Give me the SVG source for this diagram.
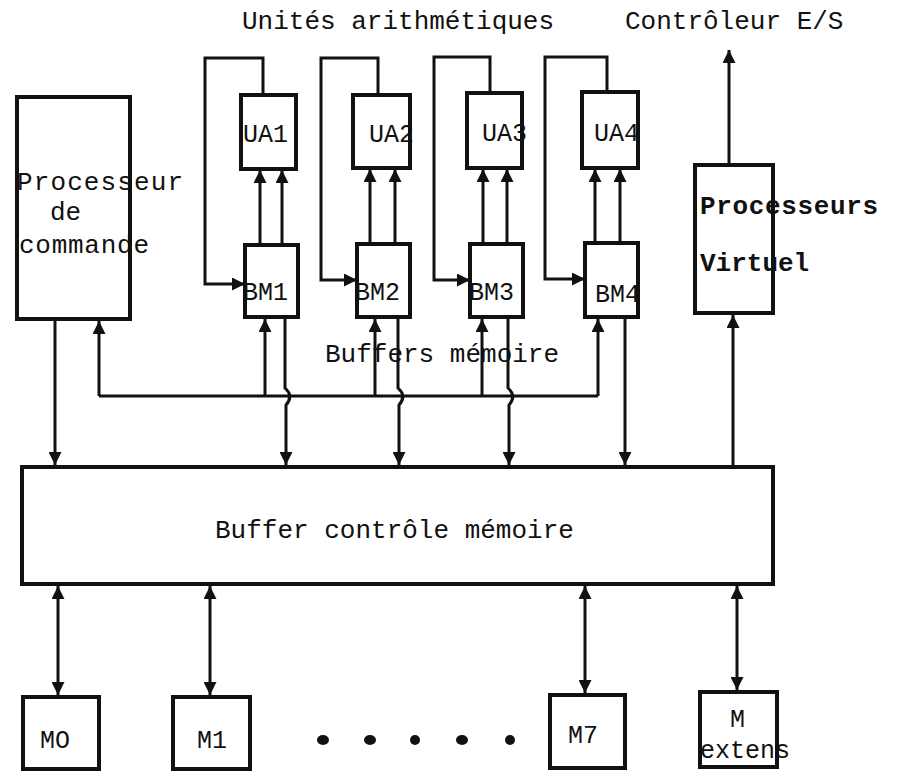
<svg xmlns="http://www.w3.org/2000/svg" width="900" height="772" viewBox="0 0 900 772">
<defs>
<marker id="ah" viewBox="0 0 12 12" markerWidth="13" markerHeight="13" refX="12" refY="6" orient="auto-start-reverse" markerUnits="userSpaceOnUse">
<path d="M0,0 L12,6 L0,12 z" fill="#111"/>
</marker>
<style>
.box{fill:none;stroke:#111;stroke-width:4}
.c{fill:none;stroke:#111;stroke-width:3}
.a{marker-end:url(#ah)}
.b{marker-start:url(#ah);marker-end:url(#ah)}
text{font-family:"Liberation Mono","DejaVu Sans Mono",monospace;fill:#111}
.t{font-size:26px}
.s{font-size:25px}
.m{font-size:25px}
</style>
</defs>
<rect width="900" height="772" fill="#fff"/>
<text class="t" x="242" y="29">Unités arithmétiques</text>
<text class="t" x="625" y="29">Contrôleur E/S</text>
<text class="t" x="325" y="362">Buffers mémoire</text>
<g id="proc-cmd">
<rect class="box" x="17" y="97" width="113" height="222"/>
<text class="t" x="17" y="190" textLength="166">Processeur</text>
<text class="t" x="50" y="220">de</text>
<text class="t" x="19" y="253" textLength="130">commande</text>
</g>
<g id="ua1"><rect class="box" x="241" y="95" width="55" height="74"/><text class="s" x="243" y="142">UA1</text></g>
<g id="ua2"><rect class="box" x="353" y="95" width="57" height="73"/><text class="s" x="369" y="142">UA2</text></g>
<g id="ua3"><rect class="box" x="467" y="93" width="55" height="75"/><text class="s" x="482" y="141">UA3</text></g>
<g id="ua4"><rect class="box" x="582" y="92" width="56" height="76"/><text class="s" x="594" y="141">UA4</text></g>
<g id="bm1"><rect class="box" x="245" y="245" width="53" height="72"/><text class="s" x="243" y="300">BM1</text></g>
<g id="bm2"><rect class="box" x="357" y="244" width="53" height="73"/><text class="s" x="355" y="300">BM2</text></g>
<g id="bm3"><rect class="box" x="470" y="244" width="53" height="73"/><text class="s" x="469" y="300">BM3</text></g>
<g id="bm4"><rect class="box" x="585" y="243" width="53" height="74"/><text class="s" x="595" y="302">BM4</text></g>
<g id="proc-virt">
<rect class="box" x="695" y="165" width="78" height="148"/>
<text class="t" x="700" y="214" font-weight="bold" textLength="178">Processeurs</text>
<text class="t" x="700" y="271" font-weight="bold">Virtuel</text>
</g>
<g id="buffer">
<rect class="box" x="22" y="467" width="751" height="117"/>
<text class="t" x="215" y="538">Buffer contrôle mémoire</text>
</g>
<g id="m0"><rect class="box" x="23" y="697" width="76" height="72"/><text class="m" x="40" y="748">MO</text></g>
<g id="m1"><rect class="box" x="173" y="697" width="77" height="72"/><text class="m" x="197" y="748">M1</text></g>
<g id="m7"><rect class="box" x="550" y="695" width="75" height="73"/><text class="m" x="568" y="743">M7</text></g>
<g id="mext"><rect class="box" x="700" y="692" width="77" height="75"/><text class="m" x="730" y="727">M</text><text class="m" x="700" y="758">extens</text></g>
<g id="dots" fill="#111">
<ellipse cx="323" cy="740" rx="6" ry="5"/>
<ellipse cx="370" cy="740" rx="6" ry="5"/>
<ellipse cx="415" cy="740" rx="5" ry="5"/>
<ellipse cx="462" cy="740" rx="6" ry="5"/>
<ellipse cx="510" cy="740" rx="5" ry="5"/>
</g>
<g id="connectors">
<path class="c a" d="M263,95 V58 H205 V284 H245"/>
<path class="c a" d="M378,95 V58 H321 V280 H357"/>
<path class="c a" d="M490,93 V57 H434 V280 H470"/>
<path class="c a" d="M607,92 V57 H545 V279 H585"/>
<path class="c a" d="M260,245 V170"/>
<path class="c a" d="M282,245 V170"/>
<path class="c a" d="M370,244 V169"/>
<path class="c a" d="M395,244 V169"/>
<path class="c a" d="M483,244 V169"/>
<path class="c a" d="M507,244 V169"/>
<path class="c a" d="M595,243 V169"/>
<path class="c a" d="M620,243 V169"/>
<path class="c" d="M99,396 H598"/>
<path class="c a" d="M99,396 V321"/>
<path class="c a" d="M265,396 V319"/>
<path class="c a" d="M375,396 V319"/>
<path class="c a" d="M482,396 V319"/>
<path class="c a" d="M598,396 V319"/>
<path class="c a" d="M285,319 V388 Q294,396 286,405 V465"/>
<path class="c a" d="M398,319 V388 Q407,396 399,405 V465"/>
<path class="c a" d="M508,319 V388 Q517,396 509,405 V465"/>
<path class="c a" d="M625,319 V465"/>
<path class="c a" d="M55,321 V465"/>
<path class="c a" d="M733,467 V315"/>
<path class="c a" d="M729,163 V50"/>
<path class="c b" d="M58,586 V695"/>
<path class="c b" d="M210,586 V695"/>
<path class="c b" d="M585,586 V693"/>
<path class="c b" d="M737,586 V690"/>
</g>
</svg>
